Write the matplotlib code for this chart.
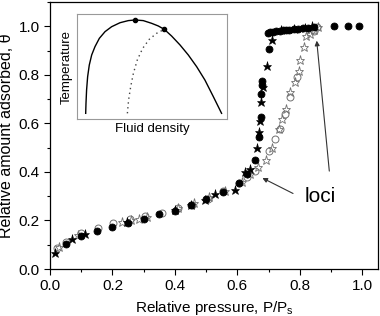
import matplotlib
matplotlib.use('Agg')
import matplotlib.pyplot as plt
from matplotlib.ticker import MultipleLocator

plt.rcParams['font.family'] = ['Liberation Sans', 'DejaVu Sans']

# Adsorption branch, run 1 (filled circles)
ads1_x = [0.05, 0.10, 0.15, 0.20, 0.25, 0.30, 0.35, 0.40, 0.45, 0.50, 0.555, 0.604,
          0.63, 0.655, 0.67, 0.676, 0.677, 0.678, 0.68, 0.70, 0.697, 0.705, 0.715,
          0.725, 0.735, 0.745, 0.755, 0.765, 0.78, 0.795, 0.81, 0.825, 0.845, 0.91,
          0.955, 0.99]
ads1_y = [0.105, 0.134, 0.155, 0.172, 0.188, 0.206, 0.226, 0.241, 0.262, 0.288, 0.318, 0.356,
          0.39, 0.45, 0.542, 0.625, 0.72, 0.756, 0.776, 0.907, 0.972, 0.975, 0.977,
          0.979, 0.981, 0.983, 0.985, 0.986, 0.988, 0.99, 0.992, 0.994, 0.998, 1.0,
          1.0, 1.0]

# Adsorption branch, run 2 (filled stars)
ads2_x = [0.015, 0.07, 0.112, 0.245, 0.40, 0.45, 0.497, 0.529, 0.593, 0.625, 0.641,
          0.664, 0.668, 0.673, 0.676, 0.681, 0.694, 0.71, 0.74, 0.78, 0.815, 0.84]
ads2_y = [0.064, 0.124, 0.144, 0.195, 0.245, 0.262, 0.286, 0.309, 0.326, 0.398, 0.41,
          0.50, 0.563, 0.61, 0.687, 0.751, 0.838, 0.944, 0.985, 0.99, 0.994, 1.0]

# Desorption branch, run 1 (open circles)
des1_x = [0.023, 0.051, 0.10, 0.155, 0.203, 0.255, 0.304, 0.36, 0.41, 0.455, 0.505,
          0.555, 0.605, 0.632, 0.657, 0.70, 0.72, 0.737, 0.753, 0.769, 0.79, 0.844, 0.855]
des1_y = [0.087, 0.112, 0.148, 0.169, 0.19, 0.205, 0.22, 0.232, 0.25, 0.265, 0.29,
          0.322, 0.355, 0.378, 0.405, 0.485, 0.535, 0.577, 0.639, 0.707, 0.79, 0.982, 0.995]

# Desorption branch, run 2 (open stars)
des2_x = [0.03, 0.09, 0.23, 0.26, 0.285, 0.31, 0.41, 0.46, 0.51, 0.56, 0.615, 0.64,
          0.665, 0.69, 0.71, 0.732, 0.742, 0.756, 0.769, 0.785, 0.796, 0.801, 0.812,
          0.82, 0.833, 0.845, 0.858]
des2_y = [0.09, 0.14, 0.195, 0.2, 0.206, 0.215, 0.252, 0.27, 0.295, 0.322, 0.36, 0.39,
          0.42, 0.45, 0.50, 0.577, 0.618, 0.66, 0.728, 0.769, 0.817, 0.859, 0.914,
          0.96, 0.969, 0.985, 0.995]

# Inset schematic: coexistence curve and loci (axes fractions)
coex_x = [0.058, 0.06, 0.064, 0.071, 0.082, 0.098, 0.12, 0.149, 0.187, 0.231, 0.287,
          0.342, 0.387, 0.442, 0.498, 0.542, 0.582, 0.631, 0.687, 0.742, 0.798, 0.853,
          0.909, 0.964]
coex_y = [0.054, 0.149, 0.276, 0.403, 0.514, 0.61, 0.689, 0.768, 0.832, 0.879, 0.917,
          0.937, 0.943, 0.937, 0.911, 0.886, 0.854, 0.79, 0.705, 0.61, 0.498, 0.371,
          0.213, 0.054]
loci_x = [0.336, 0.344, 0.358, 0.376, 0.402, 0.438, 0.482, 0.531, 0.582]
loci_y = [0.054, 0.181, 0.308, 0.435, 0.562, 0.673, 0.759, 0.816, 0.854]
dots_x = [0.387, 0.582]
dots_y = [0.943, 0.854]

fig = plt.figure(figsize=(3.8, 3.16), dpi=100)
ax = fig.add_axes([0.1316, 0.1487, 0.8631, 0.845])

open_c = '#707070'
ax.plot(ads1_x, ads1_y, 'o', ms=5, mfc='black', mec='black', mew=0.6, zorder=3)
ax.plot(ads2_x, ads2_y, '*', ms=6.5, mfc='black', mec='black', mew=0.4, zorder=3)
ax.plot(des1_x, des1_y, 'o', ms=5, mfc='none', mec=open_c, mew=0.7, zorder=2)
ax.plot(des2_x, des2_y, '*', ms=6.5, mfc='none', mec=open_c, mew=0.6, zorder=2)

ax.set_xlim(0, 1.05)
ax.set_ylim(0, 1.1)
ax.xaxis.set_major_locator(MultipleLocator(0.2))
ax.xaxis.set_minor_locator(MultipleLocator(0.1))
ax.yaxis.set_major_locator(MultipleLocator(0.2))
ax.yaxis.set_minor_locator(MultipleLocator(0.1))
ax.tick_params(which='both', direction='out', top=False, right=False, labelsize=11)
ax.tick_params(which='major', length=4, width=0.8)
ax.tick_params(which='minor', length=2.5, width=0.8)
ax.xaxis.set_major_formatter(plt.FuncFormatter(lambda v, p: f'{v:.1f}'))
ax.yaxis.set_major_formatter(plt.FuncFormatter(lambda v, p: f'{v:.1f}'))
for s in ax.spines.values():
    s.set_linewidth(0.9)

ax.set_xlabel('Relative pressure, P/P$_\\mathregular{s}$', fontsize=11, labelpad=4)
ax.set_ylabel('Relative amount adsorbed, \u03b8', fontsize=11.5, labelpad=3)

# loci annotation
ax.text(0.865, 0.30, 'loci', fontsize=15, ha='center', va='center')
ax.annotate('', xy=(0.672, 0.38), xytext=(0.786, 0.306),
            arrowprops=dict(arrowstyle='-|>', color='#333333', lw=0.8, mutation_scale=7))
ax.annotate('', xy=(0.853, 0.952), xytext=(0.895, 0.392),
            arrowprops=dict(arrowstyle='-|>', color='#333333', lw=0.8, mutation_scale=7))

# inset
ins = fig.add_axes([0.2026, 0.6234, 0.3947, 0.3323])
ins.plot(coex_x, coex_y, '-', color='black', lw=1.0)
ins.plot(loci_x, loci_y, linestyle=(0, (1, 2.5)), color='#444444', lw=1.0)
ins.plot(dots_x, dots_y, 'o', ms=3, color='black')
ins.set_xlim(0, 1)
ins.set_ylim(0, 1)
ins.set_xticks([])
ins.set_yticks([])
for s in ins.spines.values():
    s.set_edgecolor('#999999')
    s.set_linewidth(0.8)
ins.set_xlabel('Fluid density', fontsize=9.5, labelpad=3)
ins.set_ylabel('Temperature', fontsize=9.5, labelpad=3)

fig.savefig('out.png', dpi=100)
